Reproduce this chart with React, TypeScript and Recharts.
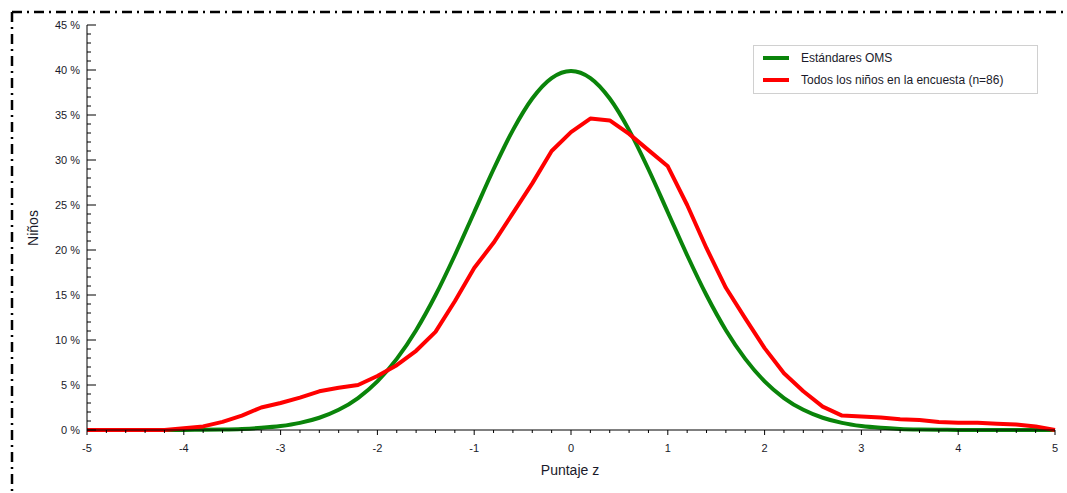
import { LineChart, Line, XAxis, YAxis } from 'recharts'

// ─── Datos: puntaje z cada 0.2 ──────────────────────────────────────────────
const zScores = [
  -5, -4.8, -4.6, -4.4, -4.2, -4, -3.8, -3.6, -3.4, -3.2, -3, -2.8, -2.6, -2.4, -2.2, -2, -1.8, -1.6, -1.4, -1.2, -1,
  -0.8, -0.6, -0.4, -0.2, 0, 0.2, 0.4, 0.6, 0.8, 1, 1.2, 1.4, 1.6, 1.8, 2, 2.2, 2.4, 2.6, 2.8, 3, 3.2, 3.4, 3.6, 3.8,
  4, 4.2, 4.4, 4.6, 4.8, 5,
]

const estandaresOMS = [
  0, 0, 0, 0, 0, 0.01, 0.03, 0.06, 0.12, 0.24, 0.44, 0.79, 1.36, 2.24, 3.55, 5.4, 7.9, 11.09, 14.97, 19.42, 24.2,
  28.97, 33.32, 36.83, 39.1, 39.89, 39.1, 36.83, 33.32, 28.97, 24.2, 19.42, 14.97, 11.09, 7.9, 5.4, 3.55, 2.24, 1.36,
  0.79, 0.44, 0.24, 0.12, 0.06, 0.03, 0.01, 0, 0, 0, 0, 0,
]

const todosLosNinos = [
  0, 0, 0, 0, 0, 0.2, 0.4, 0.9, 1.6, 2.5, 3.0, 3.6, 4.3, 4.7, 5.0, 6.0, 7.2, 8.8, 10.9, 14.3, 18.0,
  20.8, 24.1, 27.4, 31.0, 33.1, 34.6, 34.4, 32.9, 31.1, 29.3, 25.0, 20.2, 15.8, 12.4, 9.1, 6.3, 4.3, 2.6,
  1.6, 1.5, 1.4, 1.2, 1.1, 0.9, 0.8, 0.8, 0.7, 0.6, 0.4, 0.0,
]

const xTicks = [-5, -4, -3, -2, -1, 0, 1, 2, 3, 4, 5]
const yTicks = [0, 5, 10, 15, 20, 25, 30, 35, 40, 45]

const xTicksAll = Array.from({ length: 51 }, (_, i) => Math.round((-5 + i * 0.2) * 10) / 10)
const yTicksAll = Array.from({ length: 46 }, (_, i) => i)

const data = zScores.map((z, i) => ({ z, oms: estandaresOMS[i], ninos: todosLosNinos[i] }))

const FONT = '"Liberation Sans", Arial, sans-serif'
const isMajorX = (v: number) => xTicks.includes(v)
const isMajorY = (v: number) => yTicks.includes(v)

function BottomTick({ x, y, payload }: any) {
  const major = isMajorX(payload.value)
  return (
    <g>
      <line x1={x} x2={x} y1={y} y2={y + (major ? 5 : 3)} stroke="#000" />
      {major && (
        <text x={x} y={y + 22} textAnchor="middle" fontSize={11} fill="#1a1a2a" fontFamily={FONT}>
          {payload.value}
        </text>
      )}
    </g>
  )
}

function TopTick({ x, y, payload }: any) {
  const major = isMajorX(payload.value)
  return <line x1={x} x2={x} y1={y} y2={y + (major ? 9 : 4)} stroke="#000" />
}

function LeftTick({ x, y, payload }: any) {
  const major = isMajorY(payload.value)
  return (
    <g>
      <line x1={x} x2={x + (major ? 9 : 4)} y1={y} y2={y} stroke="#000" />
      {major && (
        <text x={x - 7} y={y + 4} textAnchor="end" fontSize={11} fill="#1a1a2a" fontFamily={FONT}>
          {payload.value} %
        </text>
      )}
    </g>
  )
}

function RightTick({ x, y, payload }: any) {
  const major = isMajorY(payload.value)
  return <line x1={x} x2={x - (major ? 9 : 4)} y1={y} y2={y} stroke="#000" />
}

export default function App() {
  return (
    <div style={{ position: 'absolute', top: 0, left: 0, width: 1067, height: 493, background: '#fff' }}>
      <LineChart width={1067} height={493} data={data} margin={{ top: 25, right: 12, bottom: 33, left: 27 }}>
        <XAxis
          dataKey="z"
          type="number"
          domain={[-5, 5]}
          ticks={xTicksAll}
          interval={0}
          tickSize={0}
          tickMargin={0}
          tickLine={false}
          tick={<BottomTick />}
          height={30}
          axisLine={{ stroke: '#000' }}
        />
        <XAxis
          xAxisId="top"
          orientation="top"
          dataKey="z"
          type="number"
          domain={[-5, 5]}
          ticks={xTicksAll}
          interval={0}
          tickSize={0}
          tickMargin={0}
          tickLine={false}
          tick={<TopTick />}
          height={0}
          axisLine={{ stroke: '#000' }}
        />
        <YAxis
          type="number"
          domain={[0, 45]}
          ticks={yTicksAll}
          interval={0}
          tickSize={0}
          tickMargin={0}
          tickLine={false}
          tick={<LeftTick />}
          width={60}
          axisLine={{ stroke: '#000' }}
        />
        <YAxis
          yAxisId="right"
          orientation="right"
          type="number"
          domain={[0, 45]}
          ticks={yTicksAll}
          interval={0}
          tickSize={0}
          tickMargin={0}
          tickLine={false}
          tick={<RightTick />}
          width={0}
          axisLine={{ stroke: '#000' }}
        />
        <Line
          type="monotone"
          dataKey="oms"
          stroke="#0a840a"
          strokeWidth={4}
          dot={false}
          isAnimationActive={false}
        />
        <Line
          type="linear"
          dataKey="ninos"
          stroke="#ff0000"
          strokeWidth={4}
          dot={false}
          strokeLinejoin="round"
          isAnimationActive={false}
        />
      </LineChart>

      {/* marco punto-raya y títulos de ejes */}
      <svg
        width={1067}
        height={493}
        style={{ position: 'absolute', top: 0, left: 0, pointerEvents: 'none' }}
      >
        <line x1={12} y1={12} x2={1067} y2={12} stroke="#000" strokeWidth={2.5} strokeDasharray="10 5 2 5" />
        <line x1={12} y1={12} x2={12} y2={493} stroke="#000" strokeWidth={2.5} strokeDasharray="10 5 2 5" />
        <text x={570} y={475} textAnchor="middle" fontSize={14} fill="#1a1a2a" fontFamily={FONT}>
          Puntaje z
        </text>
        <text
          x={38}
          y={228}
          textAnchor="middle"
          fontSize={14}
          fill="#1a1a2a"
          fontFamily={FONT}
          transform="rotate(-90 38 228)"
        >
          Niños
        </text>
      </svg>

      {/* leyenda */}
      <div
        style={{
          position: 'absolute',
          left: 753,
          top: 45,
          width: 283,
          height: 47,
          border: '1px solid #d0d0d0',
          background: '#fff',
          fontFamily: FONT,
          fontSize: 12,
          color: '#1a1a2a',
        }}
      >
        {[
          { name: 'Estándares OMS', color: '#0a840a', top: 5 },
          { name: 'Todos los niños en la encuesta (n=86)', color: '#ff0000', top: 27 },
        ].map((d) => (
          <div key={d.name} style={{ position: 'absolute', left: 9, top: d.top, display: 'flex', alignItems: 'center' }}>
            <span style={{ width: 26, height: 4, background: d.color, display: 'inline-block', marginRight: 12 }} />
            <span>{d.name}</span>
          </div>
        ))}
      </div>
    </div>
  )
}
